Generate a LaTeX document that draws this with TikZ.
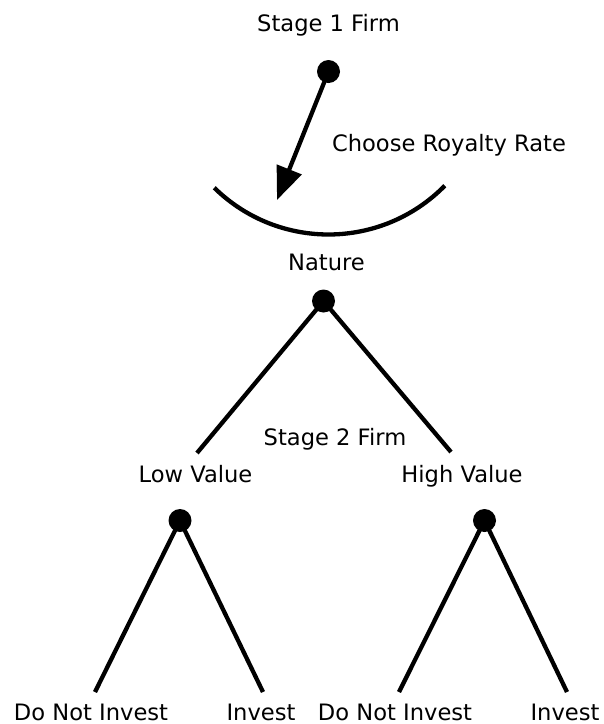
\documentclass[tikz,border=0pt]{standalone}
\usepackage{fontspec}
\setmainfont{DejaVu Sans}
\usetikzlibrary{arrows.meta}
\begin{document}
\begin{tikzpicture}[x=1pt,y=-1pt,
  dot/.style={circle,fill=black,inner sep=0pt,minimum size=23pt},
  edge/.style={line width=4.3pt},
  lbl/.style={anchor=base,inner sep=0pt,font=\fontsize{22.6}{27}\selectfont}]
\useasboundingbox (0,0) rectangle (604,724);
% texts
\node[lbl] (t1) at (328.5,31) {Stage 1 Firm};
\node[lbl] (t2) at (449,151) {Choose Royalty Rate};
\node[lbl] (t3) at (326.5,270) {Nature};
\node[lbl] (t4) at (335,445) {Stage 2 Firm};
\node[lbl] (t5) at (195.5,482) {Low Value};
\node[lbl] (t6) at (462,482) {High Value};
\node[lbl] (b1) at (91,720) {Do Not Invest};
\node[lbl] (b2) at (261,720) {Invest};
\node[lbl] (b3) at (395,720) {Do Not Invest};
\node[lbl] (b4) at (565,720) {Invest};
% dots
\node[dot] (top) at (328.5,71.5) {};
\node[dot] (nat) at (323.5,301) {};
\node[dot] (low) at (180,520.5) {};
\node[dot] (high) at (484.5,520.5) {};
% branch ends
\coordinate (choice) at (277,200);
\coordinate (lv) at (197,453);
\coordinate (hv) at (451,452);
\coordinate (l1) at (95,692);
\coordinate (l2) at (263,692);
\coordinate (h1) at (399,692);
\coordinate (h2) at (567,692);
% arc of choices
\draw[edge] (top.center) ++(134.5:163) arc[start angle=134.5,end angle=44.5,radius=163];
% arrow
\draw[edge,-{Triangle[length=33pt,width=26pt]}] (top.center) -- (choice);
% tree edges
\draw[edge] (lv) -- (nat.center) -- (hv);
\draw[edge] (l1) -- (low.center) -- (l2);
\draw[edge] (h1) -- (high.center) -- (h2);
\end{tikzpicture}
\end{document}
